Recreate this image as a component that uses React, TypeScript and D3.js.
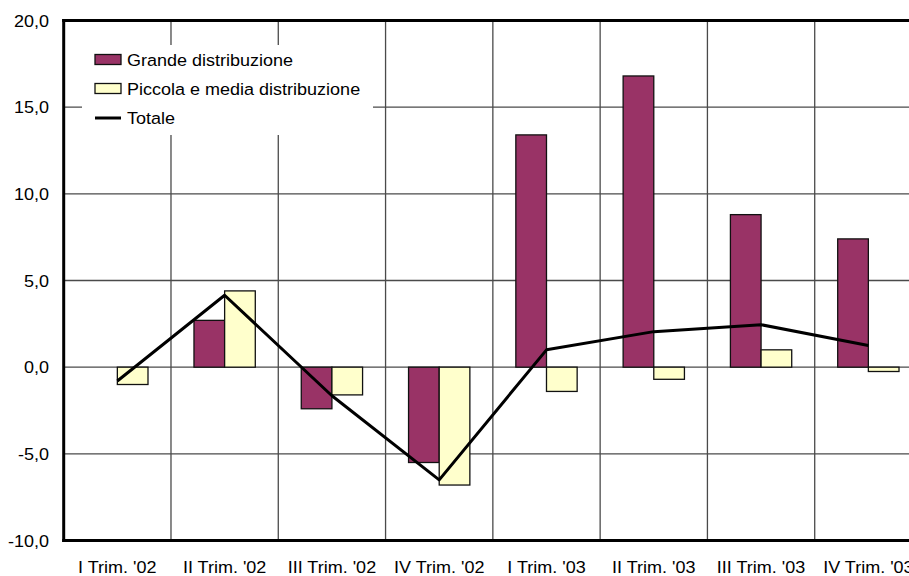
import React from "react";
import * as d3 from "d3";

// Quarterly sales change (%) by distribution channel
const categories = [
  "I Trim. '02",
  "II Trim. '02",
  "III Trim. '02",
  "IV Trim. '02",
  "I Trim. '03",
  "II Trim. '03",
  "III Trim. '03",
  "IV Trim. '03",
];
const grande: (number | null)[] = [null, 2.7, -2.4, -5.5, 13.4, 16.8, 8.8, 7.4];
const piccola: (number | null)[] = [-1.0, 4.4, -1.6, -6.8, -1.4, -0.7, 1.0, -0.25];
const totale: number[] = [-0.8, 4.15, -1.65, -6.5, 1.0, 2.05, 2.45, 1.25];
const yTicks = [-10, -5, 0, 5, 10, 15, 20];

const seriesNames = ["Grande distribuzione", "Piccola e media distribuzione", "Totale"];
const seriesKeys = ["grande", "piccola"];

const W = 909;
const H = 576;
const plotLeft = 63.7;
const plotRight = 922;
const plotTop = 20.5;
const plotBottom = 540.5;

const FONT = "'Liberation Sans', Arial, sans-serif";
const PURPLE = "#993366";
const YELLOW = "#FFFFCC";
const GRID = "#4a4a4a";
const STRETCH = 1.06;

function Label(props: { x: number; y: number; anchor?: "start" | "middle" | "end"; children: string }) {
  return (
    <g transform={`translate(${props.x},${props.y}) scale(${STRETCH},1)`}>
      <text x={0} y={0} textAnchor={props.anchor || "start"} fontFamily={FONT} fontSize={17} fill="#000">
        {props.children}
      </text>
    </g>
  );
}

export default function App() {
  const x0 = d3.scaleBand<string>().domain(categories).range([plotLeft, plotRight]).padding(0);
  const x1 = d3
    .scaleBand<string>()
    .domain(seriesKeys)
    .range([0, x0.bandwidth()])
    .paddingInner(0)
    .paddingOuter(0.75);
  const y = d3.scaleLinear().domain([-10, 20]).range([plotBottom, plotTop]);
  const fmt = (v: number) => d3.format(".1f")(v).replace("\u2212", "-").replace(".", ",");

  const line = d3
    .line<number>()
    .x((_, i) => (x0(categories[i]) as number) + x0.bandwidth() / 2)
    .y((v) => y(v));

  const bars: { key: string; vals: (number | null)[]; fill: string }[] = [
    { key: "grande", vals: grande, fill: PURPLE },
    { key: "piccola", vals: piccola, fill: YELLOW },
  ];

  const legendX = 95;
  const legendRows = [60, 89, 118];

  return (
    <div style={{ position: "absolute", left: 0, top: 0 }}>
      <svg width={W} height={H} style={{ display: "block", background: "#fff" }}>
        <defs>
          <clipPath id="plotClip">
            <rect x={plotLeft} y={plotTop - 2} width={plotRight - plotLeft} height={plotBottom - plotTop + 4} />
          </clipPath>
        </defs>

        {/* horizontal gridlines */}
        {yTicks.map((t) => (
          <line
            key={"h" + t}
            x1={plotLeft}
            x2={plotRight}
            y1={y(t)}
            y2={y(t)}
            stroke={GRID}
            strokeWidth={1.3}
          />
        ))}
        {/* vertical gridlines at category boundaries */}
        {categories.slice(1).map((c) => (
          <line
            key={"v" + c}
            x1={x0(c)}
            x2={x0(c)}
            y1={plotTop}
            y2={plotBottom}
            stroke={GRID}
            strokeWidth={1.3}
          />
        ))}

        {/* legend box */}
        <rect x={82} y={45} width={291} height={90} fill="#fff" />

        {/* bars */}
        <g clipPath="url(#plotClip)">
          {bars.map((s) =>
            s.vals.map((v, i) =>
              v === null ? null : (
                <rect
                  key={s.key + i}
                  x={(x0(categories[i]) as number) + (x1(s.key) as number)}
                  width={x1.bandwidth()}
                  y={y(Math.max(0, v))}
                  height={Math.abs(y(v) - y(0))}
                  fill={s.fill}
                  stroke="#111"
                  strokeWidth={1.3}
                />
              )
            )
          )}
          <path d={line(totale) || ""} fill="none" stroke="#000" strokeWidth={3} strokeLinejoin="round" />
        </g>

        {/* axis frame */}
        <line x1={plotLeft} x2={plotLeft} y1={plotTop - 1.5} y2={plotBottom + 1.5} stroke="#000" strokeWidth={3} />
        <line x1={plotLeft - 1.5} x2={W} y1={plotTop} y2={plotTop} stroke="#000" strokeWidth={3} />
        <line x1={plotLeft - 1.5} x2={W} y1={plotBottom} y2={plotBottom} stroke="#000" strokeWidth={3} />

        {/* y tick labels */}
        {yTicks.map((t) => (
          <Label key={"yl" + t} x={49} y={y(t) + 6} anchor="end">
            {fmt(t)}
          </Label>
        ))}

        {/* x labels */}
        {categories.map((c) => (
          <Label key={"xl" + c} x={(x0(c) as number) + x0.bandwidth() / 2} y={573} anchor="middle">
            {c}
          </Label>
        ))}

        {/* legend */}
        <rect x={legendX} y={legendRows[0] - 5.5} width={26} height={10} fill={PURPLE} stroke="#111" strokeWidth={1.3} />
        <rect x={legendX} y={legendRows[1] - 5.5} width={26} height={10} fill={YELLOW} stroke="#111" strokeWidth={1.3} />
        <line x1={legendX} x2={legendX + 26} y1={legendRows[2]} y2={legendRows[2]} stroke="#000" strokeWidth={3} />
        {seriesNames.map((n, i) => (
          <Label key={n} x={127} y={legendRows[i] + 6}>
            {n}
          </Label>
        ))}
      </svg>
    </div>
  );
}
